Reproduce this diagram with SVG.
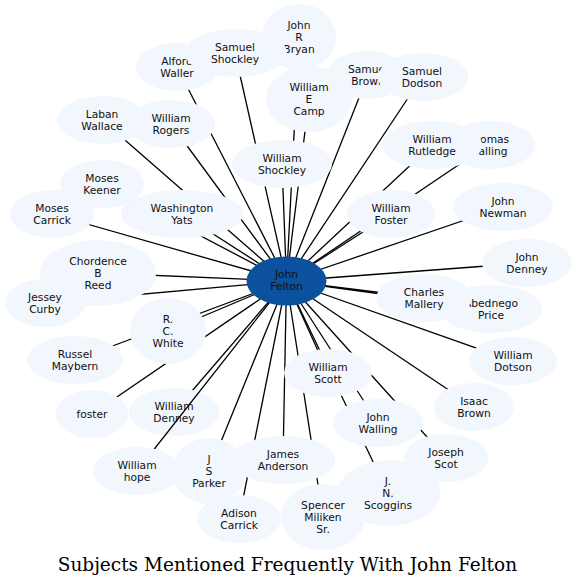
<svg xmlns="http://www.w3.org/2000/svg" width="578" height="587" viewBox="0 0 578 587">
<style>
.n ellipse{fill:#f2f7fd;stroke:none}
.c ellipse{fill:#0b519d;stroke:none}
text{font-family:"DejaVu Sans",sans-serif;font-size:10.7px;fill:#111;text-anchor:middle}
.e line{stroke:#000;stroke-width:1.3}
.title{font-family:"DejaVu Serif",serif;font-size:18.5px;fill:#000}
</style>
<rect width="578" height="587" fill="#fff"/>
<g id="edges" class="e">
<line x1="286.5" y1="281" x2="299" y2="37"/>
<line x1="286.5" y1="281" x2="235" y2="53"/>
<line x1="286.5" y1="281" x2="177" y2="67"/>
<line x1="286.5" y1="281" x2="309" y2="99"/>
<line x1="286.5" y1="281" x2="368" y2="75"/>
<line x1="286.5" y1="281" x2="422" y2="77"/>
<line x1="286.5" y1="281" x2="432" y2="145"/>
<line x1="286.5" y1="281" x2="488" y2="145"/>
<line x1="286.5" y1="281" x2="102" y2="120"/>
<line x1="286.5" y1="281" x2="171" y2="124"/>
<line x1="286.5" y1="281" x2="102" y2="184"/>
<line x1="286.5" y1="281" x2="52" y2="214"/>
<line x1="286.5" y1="281" x2="182" y2="214"/>
<line x1="286.5" y1="281" x2="282" y2="164"/>
<line x1="286.5" y1="281" x2="391" y2="214"/>
<line x1="286.5" y1="281" x2="503" y2="207"/>
<line x1="286.5" y1="281" x2="527" y2="263"/>
<line x1="286.5" y1="281" x2="424" y2="298"/>
<line x1="286.5" y1="281" x2="491" y2="309"/>
<line x1="286.5" y1="281" x2="98" y2="273"/>
<line x1="286.5" y1="281" x2="45" y2="303"/>
<line x1="286.5" y1="281" x2="168" y2="331"/>
<line x1="286.5" y1="281" x2="75" y2="360"/>
<line x1="286.5" y1="281" x2="92" y2="414"/>
<line x1="286.5" y1="281" x2="174" y2="412"/>
<line x1="286.5" y1="281" x2="209" y2="471"/>
<line x1="286.5" y1="281" x2="283" y2="460"/>
<line x1="286.5" y1="281" x2="239" y2="519"/>
<line x1="286.5" y1="281" x2="323" y2="517"/>
<line x1="286.5" y1="281" x2="328" y2="373"/>
<line x1="286.5" y1="281" x2="513" y2="361"/>
<line x1="286.5" y1="281" x2="474" y2="407"/>
<line x1="286.5" y1="281" x2="378" y2="423"/>
<line x1="286.5" y1="281" x2="446" y2="458"/>
<line x1="286.5" y1="281" x2="388" y2="493"/>
</g>
<g id="alford-waller" class="n"><ellipse cx="177" cy="67" rx="41" ry="24"/><text x="177" y="65">Alford</text><text x="177" y="76.7">Waller</text></g>
<g id="john-r-bryan" class="n"><ellipse cx="299" cy="37" rx="37" ry="33"/><text x="299" y="29.2">John</text><text x="299" y="40.9">R</text><text x="299" y="52.6">Bryan</text></g>
<g id="samuel-shockley" class="n"><ellipse cx="236" cy="53" rx="51" ry="24"/><text x="235" y="51">Samuel</text><text x="235" y="62.7">Shockley</text></g>
<g id="william-e-camp" class="n"><ellipse cx="309" cy="99" rx="43" ry="33"/><text x="309" y="91.2">William</text><text x="309" y="102.9">E</text><text x="309" y="114.6">Camp</text></g>
<g id="samuel-brown" class="n"><ellipse cx="367" cy="75" rx="40" ry="24"/><text x="368" y="73">Samuel</text><text x="368" y="84.7">Brown</text></g>
<g id="samuel-dodson" class="n"><ellipse cx="423" cy="77" rx="45" ry="24"/><text x="422" y="75">Samuel</text><text x="422" y="86.7">Dodson</text></g>
<g id="thomas-walling" class="n"><ellipse cx="490" cy="145" rx="45" ry="24"/><text x="488" y="143">Thomas</text><text x="488" y="154.7">Walling</text></g>
<g id="william-rutledge" class="n"><ellipse cx="432" cy="145" rx="50" ry="24"/><text x="432" y="143">William</text><text x="432" y="154.7">Rutledge</text></g>
<g id="laban-wallace" class="n"><ellipse cx="102" cy="120" rx="45" ry="24"/><text x="102" y="118">Laban</text><text x="102" y="129.7">Wallace</text></g>
<g id="william-rogers" class="n"><ellipse cx="171" cy="124" rx="44" ry="24"/><text x="171" y="122">William</text><text x="171" y="133.7">Rogers</text></g>
<g id="moses-keener" class="n"><ellipse cx="102" cy="184" rx="42" ry="24"/><text x="102" y="182">Moses</text><text x="102" y="193.7">Keener</text></g>
<g id="moses-carrick" class="n"><ellipse cx="52" cy="214" rx="42" ry="24"/><text x="52" y="212">Moses</text><text x="52" y="223.7">Carrick</text></g>
<g id="washington-yats" class="n"><ellipse cx="182" cy="214" rx="61" ry="24"/><text x="182" y="212">Washington</text><text x="182" y="223.7">Yats</text></g>
<g id="william-shockley" class="n"><ellipse cx="282" cy="164" rx="50" ry="24"/><text x="282" y="162">William</text><text x="282" y="173.7">Shockley</text></g>
<g id="william-foster" class="n"><ellipse cx="391" cy="214" rx="44" ry="24"/><text x="391" y="212">William</text><text x="391" y="223.7">Foster</text></g>
<g id="john-newman" class="n"><ellipse cx="503" cy="207" rx="50" ry="24"/><text x="503" y="205">John</text><text x="503" y="216.7">Newman</text></g>
<g id="john-denney" class="n"><ellipse cx="527" cy="263" rx="45" ry="24"/><text x="527" y="261">John</text><text x="527" y="272.7">Denney</text></g>
<g id="abednego-price" class="n"><ellipse cx="491" cy="309" rx="51" ry="24"/><text x="491" y="307">Abednego</text><text x="491" y="318.7">Price</text></g>
<g id="charles-mallery" class="n"><ellipse cx="424" cy="298" rx="47.5" ry="24"/><text x="424" y="296">Charles</text><text x="424" y="307.7">Mallery</text></g>
<g id="chordence-b-reed" class="n"><ellipse cx="98" cy="273" rx="58" ry="33"/><text x="98" y="265.2">Chordence</text><text x="98" y="276.9">B</text><text x="98" y="288.6">Reed</text></g>
<g id="jessey-curby" class="n"><ellipse cx="45" cy="303" rx="40" ry="24"/><text x="45" y="301">Jessey</text><text x="45" y="312.7">Curby</text></g>
<g id="r-c-white" class="n"><ellipse cx="168" cy="331" rx="38" ry="33"/><text x="168" y="323.2">R.</text><text x="168" y="334.9">C.</text><text x="168" y="346.6">White</text></g>
<g id="russel-maybern" class="n"><ellipse cx="75" cy="360" rx="48" ry="24"/><text x="75" y="358">Russel</text><text x="75" y="369.7">Maybern</text></g>
<g id="foster" class="n"><ellipse cx="92" cy="414" rx="36" ry="24"/><text x="92" y="417.9">foster</text></g>
<g id="william-denney" class="n"><ellipse cx="174" cy="412" rx="45" ry="24"/><text x="174" y="410">William</text><text x="174" y="421.7">Denney</text></g>
<g id="edges-over" class="e"><line x1="286.5" y1="281" x2="137" y2="471"/></g>
<g id="william-hope" class="n"><ellipse cx="137" cy="471" rx="44" ry="24"/><text x="137" y="469">William</text><text x="137" y="480.7">hope</text></g>
<g id="j-s-parker" class="n"><ellipse cx="209" cy="471" rx="37" ry="33"/><text x="209" y="463.2">J</text><text x="209" y="474.9">S</text><text x="209" y="486.6">Parker</text></g>
<g id="james-anderson" class="n"><ellipse cx="283" cy="460" rx="52" ry="24"/><text x="283" y="458">James</text><text x="283" y="469.7">Anderson</text></g>
<g id="adison-carrick" class="n"><ellipse cx="239" cy="519" rx="42" ry="24"/><text x="239" y="517">Adison</text><text x="239" y="528.7">Carrick</text></g>
<g id="j-n-scoggins" class="n"><ellipse cx="389" cy="493" rx="51" ry="33"/><text x="388" y="485.2">J.</text><text x="388" y="496.9">N.</text><text x="388" y="508.6">Scoggins</text></g>
<g id="spencer-miliken-sr" class="n"><ellipse cx="323" cy="517" rx="42" ry="33"/><text x="323" y="509.2">Spencer</text><text x="323" y="520.9">Miliken</text><text x="323" y="532.6">Sr.</text></g>
<g id="william-scott" class="n"><ellipse cx="328" cy="373" rx="44" ry="24"/><text x="328" y="371">William</text><text x="328" y="382.7">Scott</text></g>
<g id="william-dotson" class="n"><ellipse cx="513" cy="361" rx="44" ry="24"/><text x="513" y="359">William</text><text x="513" y="370.7">Dotson</text></g>
<g id="isaac-brown" class="n"><ellipse cx="474" cy="407" rx="40" ry="24"/><text x="474" y="405">Isaac</text><text x="474" y="416.7">Brown</text></g>
<g id="john-walling" class="n"><ellipse cx="378" cy="423" rx="45" ry="24"/><text x="378" y="421">John</text><text x="378" y="432.7">Walling</text></g>
<g id="joseph-scot" class="n"><ellipse cx="446" cy="458" rx="42" ry="24"/><text x="446" y="456">Joseph</text><text x="446" y="467.7">Scot</text></g>
<g id="john-felton" class="c"><ellipse cx="286.5" cy="281" rx="40" ry="24.5"/><text x="286.5" y="278">John</text><text x="286.5" y="289.7">Felton</text></g>
<text class="title" x="287.4" y="570.7">Subjects Mentioned Frequently With John Felton</text>
</svg>
